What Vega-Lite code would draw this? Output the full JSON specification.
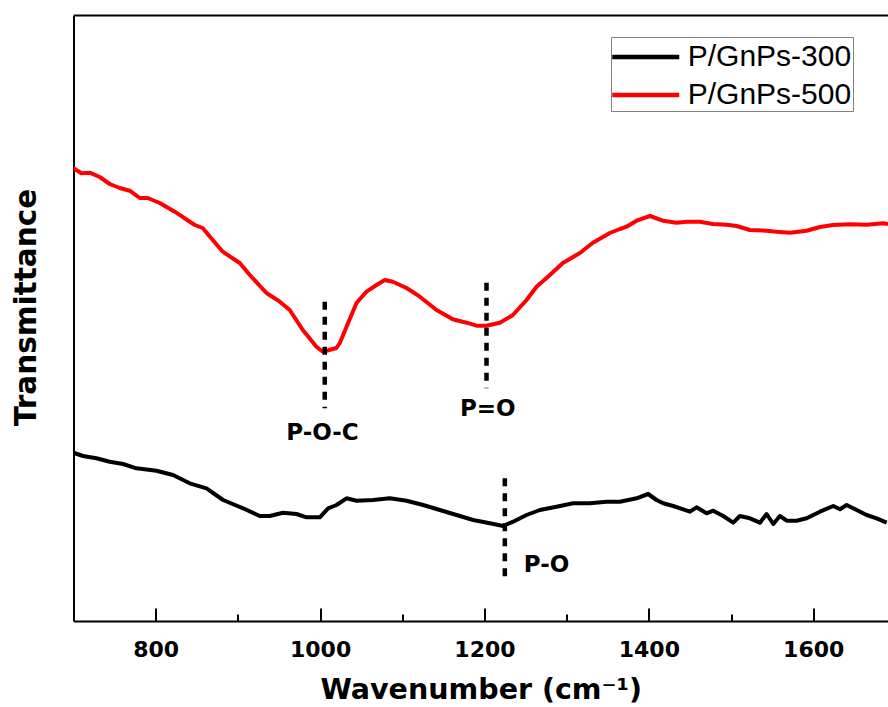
{
  "$schema": "https://vega.github.io/schema/vega-lite/v6.json",
  "width": 814.5,
  "height": 606,
  "autosize": {"type": "none"},
  "padding": {"left": 73.5, "top": 15, "right": 0, "bottom": 86},
  "background": "white",
  "config": {"view": {"stroke": null}},
  "datasets": {
    "spectra": [
      {"s":"P/GnPs-500","wn":700,"t":451.7},{"s":"P/GnPs-500","wn":709.6,"t":446.7},{"s":"P/GnPs-500","wn":719.7,"t":447.3},{"s":"P/GnPs-500","wn":731.9,"t":443},{"s":"P/GnPs-500","wn":744.1,"t":436},{"s":"P/GnPs-500","wn":756.2,"t":432},{"s":"P/GnPs-500","wn":768.4,"t":429.3},{"s":"P/GnPs-500","wn":780.6,"t":422},{"s":"P/GnPs-500","wn":790.3,"t":422},{"s":"P/GnPs-500","wn":804.9,"t":417},{"s":"P/GnPs-500","wn":823.2,"t":408.3},{"s":"P/GnPs-500","wn":847.5,"t":395},{"s":"P/GnPs-500","wn":857.2,"t":392},{"s":"P/GnPs-500","wn":869.4,"t":380},{"s":"P/GnPs-500","wn":881.6,"t":368.3},{"s":"P/GnPs-500","wn":902.3,"t":357},{"s":"P/GnPs-500","wn":914.5,"t":345},{"s":"P/GnPs-500","wn":934.8,"t":327},{"s":"P/GnPs-500","wn":951,"t":318.3},{"s":"P/GnPs-500","wn":963.1,"t":310},{"s":"P/GnPs-500","wn":979,"t":290},{"s":"P/GnPs-500","wn":995.6,"t":273.3},{"s":"P/GnPs-500","wn":1003.3,"t":268.3},{"s":"P/GnPs-500","wn":1020,"t":272},{"s":"P/GnPs-500","wn":1024,"t":277},{"s":"P/GnPs-500","wn":1032.2,"t":293.3},{"s":"P/GnPs-500","wn":1044.3,"t":317},{"s":"P/GnPs-500","wn":1056.5,"t":328.3},{"s":"P/GnPs-500","wn":1068.7,"t":335},{"s":"P/GnPs-500","wn":1078.8,"t":340},{"s":"P/GnPs-500","wn":1088.5,"t":338.3},{"s":"P/GnPs-500","wn":1105.2,"t":332},{"s":"P/GnPs-500","wn":1121.4,"t":323.3},{"s":"P/GnPs-500","wn":1141.7,"t":310},{"s":"P/GnPs-500","wn":1161.5,"t":300.7},{"s":"P/GnPs-500","wn":1178.2,"t":297.3},{"s":"P/GnPs-500","wn":1190.4,"t":294.3},{"s":"P/GnPs-500","wn":1202.5,"t":294.3},{"s":"P/GnPs-500","wn":1218.7,"t":297.3},{"s":"P/GnPs-500","wn":1234.6,"t":305},{"s":"P/GnPs-500","wn":1251.2,"t":320},{"s":"P/GnPs-500","wn":1263.4,"t":333.3},{"s":"P/GnPs-500","wn":1279.6,"t":345},{"s":"P/GnPs-500","wn":1295.4,"t":357},{"s":"P/GnPs-500","wn":1316.1,"t":367},{"s":"P/GnPs-500","wn":1331.9,"t":377.3},{"s":"P/GnPs-500","wn":1352.6,"t":387},{"s":"P/GnPs-500","wn":1364.8,"t":391},{"s":"P/GnPs-500","wn":1372.9,"t":393.3},{"s":"P/GnPs-500","wn":1385.1,"t":399.3},{"s":"P/GnPs-500","wn":1401.3,"t":404},{"s":"P/GnPs-500","wn":1417.1,"t":399.3},{"s":"P/GnPs-500","wn":1433.8,"t":397.3},{"s":"P/GnPs-500","wn":1446,"t":398.3},{"s":"P/GnPs-500","wn":1462.2,"t":398.3},{"s":"P/GnPs-500","wn":1478,"t":396},{"s":"P/GnPs-500","wn":1494.6,"t":395.3},{"s":"P/GnPs-500","wn":1506.8,"t":394},{"s":"P/GnPs-500","wn":1523,"t":390},{"s":"P/GnPs-500","wn":1543.3,"t":389.3},{"s":"P/GnPs-500","wn":1555.5,"t":388.3},{"s":"P/GnPs-500","wn":1571.7,"t":387.3},{"s":"P/GnPs-500","wn":1592,"t":389.3},{"s":"P/GnPs-500","wn":1608.2,"t":393},{"s":"P/GnPs-500","wn":1624,"t":395},{"s":"P/GnPs-500","wn":1644.7,"t":395.7},{"s":"P/GnPs-500","wn":1665,"t":395.3},{"s":"P/GnPs-500","wn":1684.9,"t":396.7},{"s":"P/GnPs-500","wn":1691,"t":396},
      {"s":"P/GnPs-300","wn":700,"t":167.3},{"s":"P/GnPs-300","wn":711.6,"t":164},{"s":"P/GnPs-300","wn":727.9,"t":161.7},{"s":"P/GnPs-300","wn":744.1,"t":158.3},{"s":"P/GnPs-300","wn":760.2,"t":156},{"s":"P/GnPs-300","wn":776.6,"t":151.7},{"s":"P/GnPs-300","wn":800.9,"t":149.3},{"s":"P/GnPs-300","wn":821.1,"t":145},{"s":"P/GnPs-300","wn":841.4,"t":136.7},{"s":"P/GnPs-300","wn":861.8,"t":131.7},{"s":"P/GnPs-300","wn":882,"t":120},{"s":"P/GnPs-300","wn":906.3,"t":111.7},{"s":"P/GnPs-300","wn":926.6,"t":104},{"s":"P/GnPs-300","wn":938.8,"t":104},{"s":"P/GnPs-300","wn":955,"t":107.3},{"s":"P/GnPs-300","wn":971.3,"t":106},{"s":"P/GnPs-300","wn":983.5,"t":102.7},{"s":"P/GnPs-300","wn":999.7,"t":102.7},{"s":"P/GnPs-300","wn":1009.8,"t":111.7},{"s":"P/GnPs-300","wn":1020,"t":115},{"s":"P/GnPs-300","wn":1032.2,"t":121.7},{"s":"P/GnPs-300","wn":1044.3,"t":119.3},{"s":"P/GnPs-300","wn":1064.5,"t":120},{"s":"P/GnPs-300","wn":1084.8,"t":121.7},{"s":"P/GnPs-300","wn":1105.2,"t":119.3},{"s":"P/GnPs-300","wn":1125.4,"t":115},{"s":"P/GnPs-300","wn":1145.7,"t":110},{"s":"P/GnPs-300","wn":1166,"t":105},{"s":"P/GnPs-300","wn":1186.2,"t":100},{"s":"P/GnPs-300","wn":1206.6,"t":96.7},{"s":"P/GnPs-300","wn":1222.7,"t":94},{"s":"P/GnPs-300","wn":1234.9,"t":98.3},{"s":"P/GnPs-300","wn":1251.2,"t":105},{"s":"P/GnPs-300","wn":1267.4,"t":110},{"s":"P/GnPs-300","wn":1287.7,"t":113.3},{"s":"P/GnPs-300","wn":1307.9,"t":116.7},{"s":"P/GnPs-300","wn":1328.3,"t":116.7},{"s":"P/GnPs-300","wn":1348.6,"t":118.3},{"s":"P/GnPs-300","wn":1364.8,"t":118.3},{"s":"P/GnPs-300","wn":1385.1,"t":121.7},{"s":"P/GnPs-300","wn":1399.2,"t":126},{"s":"P/GnPs-300","wn":1409.4,"t":120},{"s":"P/GnPs-300","wn":1417.5,"t":116.7},{"s":"P/GnPs-300","wn":1429.6,"t":114},{"s":"P/GnPs-300","wn":1441.8,"t":110.7},{"s":"P/GnPs-300","wn":1450,"t":108.3},{"s":"P/GnPs-300","wn":1458.1,"t":112.7},{"s":"P/GnPs-300","wn":1470.3,"t":106.7},{"s":"P/GnPs-300","wn":1478.3,"t":109.3},{"s":"P/GnPs-300","wn":1490.5,"t":104},{"s":"P/GnPs-300","wn":1502.7,"t":97.3},{"s":"P/GnPs-300","wn":1510.8,"t":104},{"s":"P/GnPs-300","wn":1523,"t":101.7},{"s":"P/GnPs-300","wn":1535.2,"t":97.3},{"s":"P/GnPs-300","wn":1543.3,"t":106},{"s":"P/GnPs-300","wn":1551.4,"t":96},{"s":"P/GnPs-300","wn":1559.5,"t":104},{"s":"P/GnPs-300","wn":1567.7,"t":99.3},{"s":"P/GnPs-300","wn":1579.8,"t":99.3},{"s":"P/GnPs-300","wn":1592,"t":101.7},{"s":"P/GnPs-300","wn":1608.2,"t":108.3},{"s":"P/GnPs-300","wn":1624.4,"t":114},{"s":"P/GnPs-300","wn":1632.6,"t":110.7},{"s":"P/GnPs-300","wn":1640.7,"t":115},{"s":"P/GnPs-300","wn":1652.9,"t":110},{"s":"P/GnPs-300","wn":1665,"t":105},{"s":"P/GnPs-300","wn":1677.2,"t":101.7},{"s":"P/GnPs-300","wn":1689.4,"t":97.3}
    ],
    "marks": [
      {"x": 1005.7, "y": 318.3, "y2": 211.7},
      {"x": 1202.5, "y": 337.3, "y2": 231.7},
      {"x": 1224.8, "y": 141.7, "y2": 36.7}
    ],
    "labels": [
      {"x": 1003, "y": 180, "label": "P-O-C"},
      {"x": 1204, "y": 204.3, "label": "P=O"},
      {"x": 1275.6, "y": 48.3, "label": "P-O"}
    ]
  },
  "resolve": {"axis": {"x": "independent", "y": "independent"}},
  "layer": [
    {
      "data": {"name": "spectra"},
      "mark": {"type": "line", "clip": true, "strokeWidth": 4, "strokeJoin": "round"},
      "encoding": {
        "x": {
          "field": "wn", "type": "quantitative",
          "scale": {"domain": [700, 1691], "nice": false, "zero": false},
          "axis": {
            "orient": "bottom",
            "values": [800, 900, 1000, 1100, 1200, 1300, 1400, 1500, 1600],
            "labelExpr": "datum.value % 200 == 0 ? datum.label : ''",
            "format": "d",
            "grid": false,
            "domainColor": "black", "domainWidth": 2,
            "tickColor": "black", "tickWidth": 2,
            "tickSize": {"condition": {"test": "datum.value % 200 != 0", "value": -7}, "value": -13},
            "labelFont": "DejaVu Sans", "labelFontWeight": "bold", "labelFontSize": 22, "labelColor": "black",
            "labelPadding": 31,
            "title": "Wavenumber (cm⁻¹)",
            "titleFont": "DejaVu Sans", "titleFontWeight": "bold", "titleFontSize": 28.5, "titleColor": "black",
            "titleBaseline": "alphabetic", "titleY": 77
          }
        },
        "y": {
          "field": "t", "type": "quantitative",
          "scale": {"domain": [-1, 605], "nice": false, "zero": false},
          "axis": {
            "orient": "left", "labels": false, "ticks": false, "grid": false,
            "domainColor": "black", "domainWidth": 2,
            "title": "Transmittance",
            "titleFont": "DejaVu Sans", "titleFontWeight": "bold", "titleFontSize": 29.5, "titleColor": "black",
            "titleBaseline": "alphabetic", "titleX": -38, "titleY": 292
          }
        },
        "color": {
          "field": "s", "type": "nominal",
          "scale": {"domain": ["P/GnPs-300", "P/GnPs-500"], "range": ["#000000", "#ff0000"]},
          "legend": {
            "orient": "none", "legendX": 537.5, "legendY": 22, "title": null,
            "symbolType": "M-2,0H2", "symbolSize": 1122, "symbolStrokeWidth": 4.5, "symbolOffset": 14.75,
            "labelFont": "Liberation Sans", "labelFontSize": 30, "labelColor": "black", "labelLimit": 400,
            "labelOffset": 23, "rowPadding": 4, "padding": 1,
            "strokeColor": "#808080", "fillColor": "white"
          }
        }
      }
    },
    {
      "data": {"name": "marks"},
      "mark": {"type": "rule", "strokeDash": [8, 7], "strokeWidth": 4.5, "color": "black"},
      "encoding": {
        "x": {"field": "x", "type": "quantitative",
          "axis": {"orient": "top", "labels": false, "ticks": false, "grid": false, "title": null, "domainColor": "black", "domainWidth": 2}},
        "y": {"field": "y", "type": "quantitative", "axis": null},
        "y2": {"field": "y2"}
      }
    },
    {
      "data": {"name": "labels"},
      "mark": {"type": "text", "font": "DejaVu Sans", "fontWeight": "bold", "fontSize": 23, "align": "center", "baseline": "alphabetic", "color": "black"},
      "encoding": {
        "x": {"field": "x", "type": "quantitative", "axis": null},
        "y": {"field": "y", "type": "quantitative", "axis": null},
        "text": {"field": "label"}
      }
    }
  ]
}
